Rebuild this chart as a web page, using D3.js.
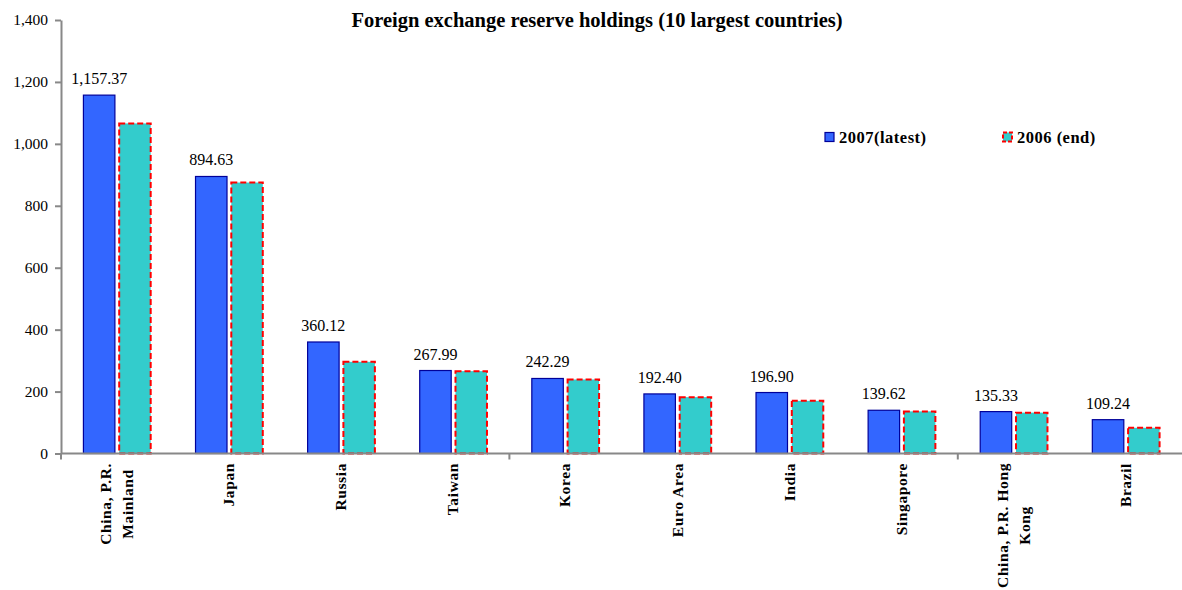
<!DOCTYPE html>
<html lang="en">
<head>
    <meta charset="UTF-8">
    <title>Foreign exchange reserve holdings</title>
    <script src="https://cdnjs.cloudflare.com/ajax/libs/d3/7.8.5/d3.min.js"></script>
    <style>
        body {
            margin: 0;
            background-color: white;
        }

        #chart text {
            font-family: "Liberation Serif", "Times New Roman", serif;
            fill: black;
        }

        .bar-2007 {
            fill: #3366ff;
            stroke: #000099;
            stroke-width: 1.2;
        }

        .bar-2006 {
            fill: #33cccc;
            stroke: #ff0000;
            stroke-width: 2;
            stroke-dasharray: 6 3;
        }

        .axis path, .axis line {
            stroke: #888888;
            stroke-width: 2;
        }
    </style>
</head>
<body>
<div id="chart"></div>
<script>
    const countries = ['China, P.R.|Mainland', 'Japan', 'Russia', 'Taiwan', 'Korea',
        'Euro Area', 'India', 'Singapore', 'China, P.R. Hong|Kong', 'Brazil'];
    const latest2007 = [1157.37, 894.63, 360.12, 267.99, 242.29, 192.40, 196.90, 139.62, 135.33, 109.24];
    const end2006 = [1066, 875, 296, 266, 239, 182, 170, 136, 132, 83];
    const yTicks = [0, 200, 400, 600, 800, 1000, 1200, 1400];
    const seriesNames = ['2007(latest)', '2006 (end)'];

    const width = 1182;
    const height = 590;
    const plotLeft = 61;
    const plotRight = 1182;
    const plotTop = 20;
    const plotBottom = 453.5;

    const svg = d3.select('#chart')
        .append('svg')
        .attr('width', width)
        .attr('height', height);

    const x0 = d3.scaleBand()
        .domain(d3.range(countries.length))
        .range([plotLeft, plotRight])
        .paddingInner(0.4)
        .paddingOuter(0.2);

    const x1 = d3.scaleBand()
        .domain([0, 1])
        .range([0, x0.bandwidth()])
        .paddingInner(0.12);

    const y = d3.scaleLinear()
        .domain([0, 1400])
        .range([plotBottom, plotTop]);

    // title
    svg.append('text')
        .attr('x', 597)
        .attr('y', 27)
        .attr('text-anchor', 'middle')
        .style('font-size', '20.5px')
        .style('font-weight', 'bold')
        .text('Foreign exchange reserve holdings (10 largest countries)');

    // y axis
    const yAxis = d3.axisLeft(y)
        .tickValues(yTicks)
        .tickFormat(d3.format(','))
        .tickSize(6)
        .tickSizeOuter(0)
        .tickPadding(7);
    const gy = svg.append('g')
        .attr('class', 'axis')
        .attr('transform', `translate(${plotLeft},0)`)
        .call(yAxis);
    gy.selectAll('text').style('font-size', '15.5px');

    // bars
    const groups = svg.selectAll('g.country')
        .data(countries)
        .enter()
        .append('g')
        .attr('class', 'country')
        .attr('transform', (d, i) => `translate(${x0(i)},0)`);

    groups.append('rect')
        .attr('class', 'bar-2007')
        .attr('x', x1(0))
        .attr('width', x1.bandwidth())
        .attr('y', (d, i) => y(latest2007[i]))
        .attr('height', (d, i) => plotBottom - y(latest2007[i]));

    groups.append('rect')
        .attr('class', 'bar-2006')
        .attr('x', x1(1))
        .attr('width', x1.bandwidth())
        .attr('y', (d, i) => y(end2006[i]))
        .attr('height', (d, i) => plotBottom - y(end2006[i]));

    groups.append('text')
        .attr('x', x1(0) + x1.bandwidth() / 2)
        .attr('y', (d, i) => y(latest2007[i]) - 11)
        .attr('text-anchor', 'middle')
        .style('font-size', '16px')
        .text((d, i) => d3.format(',.2f')(latest2007[i]));

    // x axis line + ticks every 4 categories
    const gx = svg.append('g').attr('class', 'axis');
    gx.append('line')
        .attr('x1', plotLeft).attr('x2', plotRight)
        .attr('y1', plotBottom).attr('y2', plotBottom);
    gx.selectAll('line.tick')
        .data([0, 4, 8])
        .enter()
        .append('line')
        .attr('class', 'tick')
        .attr('x1', d => plotLeft + d * x0.step())
        .attr('x2', d => plotLeft + d * x0.step())
        .attr('y1', plotBottom)
        .attr('y2', plotBottom + 6);

    // rotated category labels
    groups.each(function (d, i) {
        const lines = d.split('|');
        const cx = x0.bandwidth() / 2;
        const g = d3.select(this).append('g')
            .attr('transform', `translate(${cx},463) rotate(-90)`);
        const texts = g.selectAll('text')
            .data(lines)
            .enter()
            .append('text')
            .attr('text-anchor', 'middle')
            .attr('y', (l, k) => 5 + (k - (lines.length - 1) / 2) * 22)
            .style('font-size', '15.5px')
            .style('font-weight', 'bold')
            .style('letter-spacing', '0.6px')
            .text(l => l);
        let maxW = 0;
        texts.each(function () {
            maxW = Math.max(maxW, this.getComputedTextLength());
        });
        texts.attr('x', -maxW / 2);
    });

    // legend
    const legend = svg.append('g');
    const legendX = [825, 1003];
    seriesNames.forEach((name, i) => {
        legend.append('rect')
            .attr('class', i === 0 ? 'bar-2007' : 'bar-2006')
            .attr('x', legendX[i])
            .attr('y', 132.5)
            .attr('width', 9)
            .attr('height', 9)
            .style('stroke-dasharray', i === 0 ? null : '4 2');
        legend.append('text')
            .attr('x', legendX[i] + 14)
            .attr('y', 143)
            .style('font-size', '16.5px')
            .style('font-weight', 'bold')
            .style('letter-spacing', '0.5px')
            .text(name);
    });
</script>
</body>
</html>
